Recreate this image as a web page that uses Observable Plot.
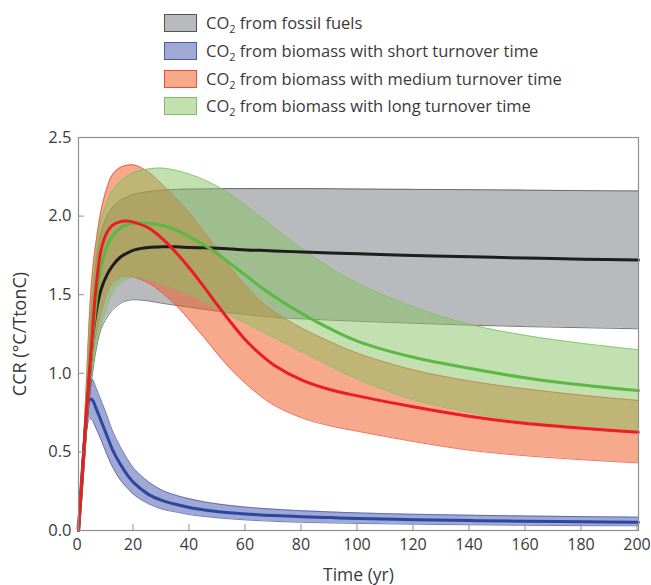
<!DOCTYPE html>
<html>
<head>
<meta charset="utf-8">
<script src="https://cdn.jsdelivr.net/npm/d3@7"></script>
<script src="https://cdn.jsdelivr.net/npm/@observablehq/plot@0.6"></script>
<style>
  html, body { margin: 0; padding: 0; background: #fff; }
  #wrap { position: relative; width: 651px; height: 585px; font-family: "Open Sans", sans-serif; color: #3a3a3a; }
  #legend { position: absolute; left: 0; top: 0; width: 651px; height: 120px; }
  .item { position: absolute; left: 164px; height: 18px; display: flex; align-items: center; }
  .sw { width: 31px; height: 16px; border: 1px solid; margin-right: 9px; flex: none; }
  .lab { font-size: 16.5px; line-height: 18px; white-space: nowrap; }
  .lab sub { font-size: 11px; vertical-align: -4px; line-height: 0; }
  #chart { position: absolute; left: 0; top: 120px; }
</style>
</head>
<body>
<div id="wrap">
  <div id="legend"></div>
  <div id="chart"></div>
</div>
<script>
// Time (yr)
const time = [0,1,2,3,4,5,6,8,10,12,15,18,20,25,30,35,40,45,50,55,60,65,70,80,90,100,120,140,160,180,200];

// CO2 from fossil fuels
const fossilHi  = [0,0.30,0.60,0.93,1.25,1.50,1.68,1.89,1.99,2.05,2.10,2.125,2.14,2.155,2.165,2.17,2.172,2.173,2.174,2.175,2.175,2.175,2.175,2.175,2.174,2.172,2.17,2.168,2.165,2.162,2.16];
const fossilMid = [0,0.25,0.50,0.76,1.00,1.21,1.36,1.53,1.62,1.68,1.74,1.77,1.785,1.80,1.805,1.805,1.80,1.798,1.795,1.79,1.785,1.782,1.778,1.772,1.766,1.76,1.75,1.741,1.733,1.726,1.72];
const fossilLo  = [0,0.22,0.45,0.66,0.85,1.00,1.12,1.28,1.35,1.40,1.445,1.465,1.468,1.46,1.445,1.432,1.42,1.407,1.395,1.384,1.373,1.364,1.356,1.346,1.338,1.331,1.318,1.306,1.297,1.29,1.283];

// CO2 from biomass, short turnover time
const shortHi  = [0,0.33,0.62,0.85,0.955,0.96,0.92,0.83,0.74,0.64,0.53,0.44,0.39,0.31,0.255,0.223,0.20,0.182,0.168,0.157,0.148,0.141,0.135,0.125,0.118,0.112,0.103,0.097,0.092,0.088,0.085];
const shortMid = [0,0.30,0.55,0.75,0.835,0.83,0.79,0.70,0.61,0.52,0.42,0.34,0.30,0.23,0.19,0.165,0.145,0.131,0.12,0.111,0.105,0.099,0.095,0.088,0.082,0.077,0.069,0.063,0.059,0.056,0.053];
const shortLo  = [0,0.27,0.50,0.65,0.71,0.70,0.66,0.58,0.49,0.41,0.32,0.26,0.225,0.17,0.135,0.117,0.10,0.089,0.08,0.073,0.067,0.062,0.058,0.052,0.048,0.045,0.04,0.036,0.033,0.031,0.03];

// CO2 from biomass, medium turnover time
const mediumHi  = [0,0.32,0.65,1.02,1.40,1.65,1.80,2.03,2.17,2.26,2.31,2.325,2.325,2.28,2.20,2.11,2.01,1.895,1.775,1.655,1.55,1.46,1.39,1.285,1.20,1.125,1.02,0.95,0.90,0.86,0.827];
const mediumMid = [0,0.26,0.52,0.78,1.03,1.27,1.50,1.78,1.89,1.94,1.965,1.968,1.96,1.925,1.855,1.765,1.66,1.545,1.425,1.31,1.205,1.12,1.05,0.955,0.895,0.855,0.785,0.725,0.68,0.65,0.625];
const mediumLo  = [0,0.24,0.48,0.72,0.95,1.10,1.22,1.38,1.50,1.57,1.61,1.62,1.61,1.575,1.51,1.43,1.33,1.225,1.115,1.015,0.93,0.855,0.795,0.715,0.665,0.63,0.565,0.51,0.475,0.45,0.43];

// CO2 from biomass, long turnover time
const longHi  = [0,0.30,0.60,0.95,1.30,1.53,1.72,1.97,2.08,2.16,2.22,2.26,2.28,2.30,2.305,2.29,2.265,2.23,2.185,2.13,2.065,1.995,1.925,1.79,1.67,1.57,1.42,1.31,1.24,1.19,1.15];
const longMid = [0,0.25,0.50,0.75,1.00,1.21,1.40,1.67,1.80,1.87,1.925,1.95,1.955,1.955,1.94,1.91,1.865,1.815,1.755,1.688,1.618,1.55,1.487,1.378,1.282,1.202,1.10,1.03,0.97,0.925,0.89];
const longLo  = [0,0.22,0.45,0.68,0.90,1.04,1.15,1.30,1.42,1.51,1.575,1.605,1.61,1.60,1.57,1.535,1.50,1.458,1.41,1.362,1.315,1.27,1.225,1.135,1.045,0.96,0.83,0.75,0.69,0.655,0.63];

const xTicks = [0,20,40,60,80,100,120,140,160,180,200];
const yTicks = [0,0.5,1.0,1.5,2.0,2.5];
const xTitle = "Time (yr)";
const yTitle = "CCR (°C/TtonC)";

const seriesNames = ["fossil fuels", "biomass with short turnover time", "biomass with medium turnover time", "biomass with long turnover time"];

const build = (hi, mid, lo) => time.map((t, i) => ({t, hi: hi[i], mid: mid[i], lo: lo[i]}));
const fossil = build(fossilHi, fossilMid, fossilLo);
const short = build(shortHi, shortMid, shortLo);
const medium = build(mediumHi, mediumMid, mediumLo);
const long = build(longHi, longMid, longLo);

const styles = [
  {data: fossil, fill: "#b9babd", fillOpacity: 1, edge: "#555555", line: "#1e1c1d", swatch: "#b9babd"},
  {data: short, fill: "#4151a9", fillOpacity: 0.5, edge: "#4a5cb2", line: "#2d47a0", swatch: "#a0a8d4"},
  {data: medium, fill: "#ef5319", fillOpacity: 0.5, edge: "#ef4a3c", line: "#ec1c24", swatch: "#f7a98c"},
  {data: long, fill: "#85c161", fillOpacity: 0.5, edge: "#7cc35e", line: "#5ab843", swatch: "#c2e0b0"}
];

// Legend
const legend = document.getElementById("legend");
const tops = [14, 42, 70, 97];
seriesNames.forEach((name, i) => {
  const it = document.createElement("div");
  it.className = "item";
  it.style.top = tops[i] + "px";
  const sw = document.createElement("div");
  sw.className = "sw";
  sw.style.background = styles[i].swatch;
  sw.style.borderColor = styles[i].edge;
  const lab = document.createElement("div");
  lab.className = "lab";
  lab.innerHTML = "CO<sub>2</sub> from " + name;
  it.appendChild(sw); it.appendChild(lab);
  legend.appendChild(it);
});

const curve = "catmull-rom";
const marks = [];
styles.forEach(s => {
  marks.push(Plot.areaY(s.data, {x: "t", y1: "lo", y2: "hi", fill: s.fill, fillOpacity: s.fillOpacity, curve}));
  marks.push(Plot.lineY(s.data, {x: "t", y: "hi", stroke: s.edge, strokeWidth: 0.8, curve}));
  marks.push(Plot.lineY(s.data, {x: "t", y: "lo", stroke: s.edge, strokeWidth: 0.8, curve}));
});
// mean lines: black, blue, green, red
[0, 1, 3, 2].forEach(i => {
  const s = styles[i];
  marks.push(Plot.lineY(s.data, {x: "t", y: "mid", stroke: s.line, strokeWidth: 3, curve}));
});

marks.push(Plot.frame({stroke: "#8f8f8f", strokeWidth: 1.2}));
marks.push(Plot.axisX({ticks: xTicks, tickSize: -6, tickPadding: 14, stroke: "#8f8f8f", fontSize: 16, dx: -1.5, fill: "#3a3a3a", label: null}));
marks.push(Plot.axisY({ticks: yTicks, tickSize: -6, tickPadding: 13, stroke: "#8f8f8f", fontSize: 16.5, fill: "#3a3a3a", tickFormat: d3.format(".1f"), label: null}));
marks.push(Plot.text([xTitle], {frameAnchor: "bottom", dy: 45, lineAnchor: "middle", textAnchor: "middle", fontSize: 17.5, fill: "#3a3a3a"}));
marks.push(Plot.text([yTitle], {frameAnchor: "left", dx: -58, rotate: -90, lineAnchor: "middle", textAnchor: "middle", fontSize: 18, fill: "#3a3a3a"}));

const chart = Plot.plot({
  width: 651,
  height: 465,
  marginTop: 17,
  marginBottom: 55,
  marginLeft: 78,
  marginRight: 13,
  style: {fontFamily: "Open Sans, sans-serif", fontSize: "16px", color: "#3a3a3a", background: "#fff"},
  x: {domain: [0, 200]},
  y: {domain: [0, 2.5]},
  marks
});
document.getElementById("chart").appendChild(chart);
</script>
</body>
</html>
